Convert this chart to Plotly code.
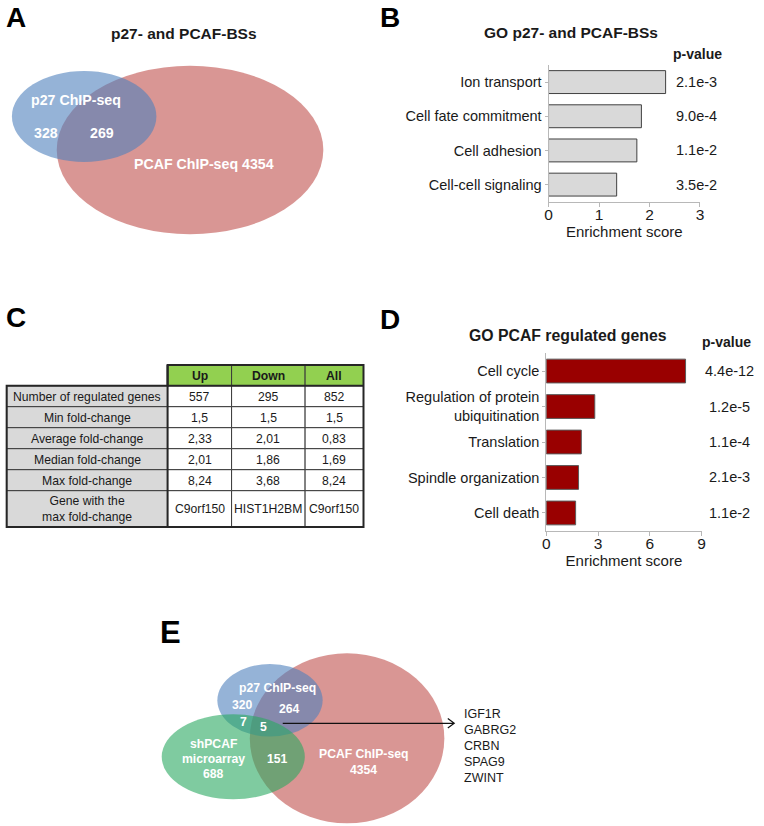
import plotly.graph_objects as go

W, H = 764, 826
FONT = "Liberation Sans, Arial, sans-serif"
TXT = "#1a1a1a"

# ---------------- data ----------------
# Panel A venn
venn_a_title = "p27- and PCAF-BSs"
venn_a_p27_only = 328
venn_a_overlap = 269
venn_a_pcaf = 4354

# Panel B
b_terms = ["Ion transport", "Cell fate commitment", "Cell adhesion", "Cell-cell signaling"]
b_scores = [2.32, 1.84, 1.75, 1.35]
b_pvals = ["2.1e-3", "9.0e-4", "1.1e-2", "3.5e-2"]
b_ticks = [0, 1, 2, 3]

# Panel C table
c_cols = ["Up", "Down", "All"]
c_rows = ["Number of regulated genes", "Min fold-change", "Average fold-change",
          "Median fold-change", "Max fold-change", "Gene with the<br>max fold-change"]
c_up = ["557", "1,5", "2,33", "2,01", "8,24", "C9orf150"]
c_down = ["295", "1,5", "2,01", "1,86", "3,68", "HIST1H2BM"]
c_all = ["852", "1,5", "0,83", "1,69", "8,24", "C9orf150"]

# Panel D
d_terms = ["Cell cycle", "Regulation of protein<br>ubiquitination", "Translation",
           "Spindle organization", "Cell death"]
d_scores = [8.07, 2.81, 2.03, 1.87, 1.70]
d_pvals = ["4.4e-12", "1.2e-5", "1.1e-4", "2.1e-3", "1.1e-2"]
d_ticks = [0, 3, 6, 9]

# Panel E venn
e_p27_only = 320
e_p27_pcaf = 264
e_p27_sh = 7
e_triple = 5
e_sh_only = 688
e_sh_pcaf = 151
e_pcaf = 4354
e_genes = ["IGF1R", "GABRG2", "CRBN", "SPAG9", "ZWINT"]

# ---------------- colours ----------------
BLUE = "rgba(79,129,189,0.6)"
RED = "rgba(192,80,77,0.6)"
GREEN = "rgba(42,168,97,0.6)"

fig = go.Figure()

def xd(a, b):
    return [a / W, b / W]

def yd(top, bottom):
    return [1 - bottom / H, 1 - top / H]

# ---------------- Panel B bars ----------------
fig.add_trace(go.Bar(
    x=b_scores, y=b_terms, orientation="h", xaxis="x2", yaxis="y2",
    marker=dict(color="#d9d9d9", line=dict(color="#404040", width=1)),
    hoverinfo="x+y"))

# ---------------- Panel D bars ----------------
fig.add_trace(go.Bar(
    x=d_scores, y=d_terms, orientation="h", xaxis="x3", yaxis="y3",
    marker=dict(color="#990000", line=dict(color="#5a5a5a", width=1)),
    hoverinfo="x+y"))

# ---------------- layout axes ----------------
def xaxis_cfg(dom, anchor, rng, ticks):
    return dict(domain=dom, anchor=anchor, range=rng, tickvals=ticks,
                showgrid=False, zeroline=False, showline=True, linecolor="#b8b8b8",
                linewidth=1, ticks="outside", ticklen=4, tickcolor="#b8b8b8",
                fixedrange=True, ticklabelstandoff=-5,
                tickfont=dict(family=FONT, size=15.5, color=TXT),
                title=dict(text="Enrichment score", font=dict(size=15, color=TXT), standoff=4))

def yaxis_cfg(dom, anchor):
    return dict(domain=dom, anchor=anchor, autorange="reversed", type="category",
                showgrid=False, zeroline=False, showline=True, linecolor="#b8b8b8",
                linewidth=1, ticks="outside", ticklen=3, tickcolor="#b8b8b8",
                fixedrange=True, tickfont=dict(family=FONT, size=14.5, color=TXT))

fig.update_layout(
    width=W, height=H, margin=dict(l=0, r=0, t=0, b=0),
    paper_bgcolor="white", plot_bgcolor="rgba(0,0,0,0)",
    showlegend=False, bargap=0.33,
    font=dict(family=FONT, color=TXT),
    xaxis2=xaxis_cfg(xd(550.3, 703.3), "y2", [0, 3], b_ticks),
    yaxis2=yaxis_cfg(yd(65, 201.7), "x2"),
    xaxis3=xaxis_cfg(xd(548, 705), "y3", [0, 9], d_ticks),
    yaxis3=yaxis_cfg(yd(353.3, 530.7), "x3"),
    # pixel canvas for venns / table / decorations
    xaxis5=dict(domain=[0, 1], range=[0, W], visible=False, fixedrange=True, anchor="y5"),
    yaxis5=dict(domain=[0, 1], range=[H, 0], visible=False, fixedrange=True, anchor="x5"),
)
fig.add_trace(go.Scatter(x=[0], y=[0], xaxis="x5", yaxis="y5", mode="markers",
                         marker=dict(opacity=0), hoverinfo="skip"))

shapes = []
ann = []

def ell(cx, cy, rx, ry, color):
    shapes.append(dict(type="circle", xref="x5", yref="y5", x0=cx - rx, x1=cx + rx,
                       y0=cy - ry, y1=cy + ry, fillcolor=color, line=dict(width=0),
                       layer="above"))

def text(x, y, s, size=13, bold=False, color=TXT, xanchor="center"):
    ann.append(dict(x=x, y=y, xref="x5", yref="y5", text=("<b>%s</b>" % s) if bold else s,
                    showarrow=False, xanchor=xanchor, yanchor="middle",
                    font=dict(family=FONT, size=size, color=color)))

# ---- Panel A venn ----
ell(188, 150, 134.7, 84.2, RED)
ell(81, 116.5, 73, 45.5, BLUE)
text(181.7, 33, venn_a_title, 15.5, True)
text(72.7, 100, "p27 ChIP-seq", 14.2, True, "white")
text(42, 133, str(venn_a_p27_only), 14.2, True, "white")
text(99, 133, str(venn_a_overlap), 14.2, True, "white")
text(201.7, 164, "PCAF ChIP-seq %d" % venn_a_pcaf, 14.2, True, "white")

# ---- Panel E venn ----
ell(346.7, 738.3, 98.3, 85, RED)
ell(268.8, 700.3, 53.2, 36.3, BLUE)
ell(231.7, 756.8, 72.3, 42.5, GREEN)
EF = 12.2
text(276, 688, "p27 ChIP-seq", EF, True, "white")
text(241, 705, str(e_p27_only), EF, True, "white")
text(288.3, 709, str(e_p27_pcaf), EF, True, "white")
text(241.7, 721.7, str(e_p27_sh), EF, True, "white")
text(262.7, 726.7, str(e_triple), EF, True, "white")
text(211.7, 744, "shPCAF", EF, True, "white")
text(211.7, 759, "microarray", EF, True, "white")
text(211.7, 774, str(e_sh_only), EF, True, "white")
text(276, 759, str(e_sh_pcaf), EF, True, "white")
text(363.3, 754.3, "PCAF ChIP-seq", EF, True, "white")
text(363.3, 770, str(e_pcaf), EF, True, "white")
shapes.append(dict(type="path", xref="x5", yref="y5", layer="above",
                   path="M 281.7 723.3 L 455 723.3 M 448.5 718.5 L 455 723.3 L 448.5 728.1",
                   line=dict(color="#111111", width=1.2)))
for i, g in enumerate(e_genes):
    text(462.7, 714 + i * 15.9, g, 12.5, False, TXT, "left")

# ---- Panel titles / p-values ----
text(573, 32, "GO p27- and PCAF-BSs", 15.5, True)
text(701, 54, "p-value", 14, True)
text(570, 335, "GO PCAF regulated genes", 15.8, True)
text(730, 342, "p-value", 14, True)
for t, p in zip(b_terms, b_pvals):
    ann.append(dict(x=700 / W, xref="paper", y=t, yref="y2", text=p, showarrow=False,
                    xanchor="center", font=dict(family=FONT, size=14.5, color=TXT)))
for t, p in zip(d_terms, d_pvals):
    ann.append(dict(x=732.7 / W, xref="paper", y=t, yref="y3", text=p, showarrow=False,
                    xanchor="center", font=dict(family=FONT, size=14.5, color=TXT)))

# ---- panel letters ----
text(0, 17, "A", 28, True, "black", "left")
text(378, 17, "B", 28, True, "black", "left")
text(0, 317, "C", 28, True, "black", "left")
text(378, 319, "D", 28, True, "black", "left")
text(156, 632, "E", 31, True, "black", "left")

# ---- Panel C table (cells drawn on pixel canvas) ----
col_edges = [2.7, 165.3, 230, 304.3, 363.3]
row_edges = [365, 385.7, 406.7, 427.7, 448.7, 469.7, 490.7, 527]
GRID = "#3a3a3a"
TF = 12.2
# header
for j, name in enumerate(c_cols, start=1):
    x0, x1 = col_edges[j], col_edges[j + 1]
    shapes.append(dict(type="rect", xref="x5", yref="y5", x0=x0, x1=x1,
                       y0=row_edges[0], y1=row_edges[1], fillcolor="#92d050",
                       line=dict(color=GRID, width=1), layer="above"))
    text((x0 + x1) / 2, (row_edges[0] + row_edges[1]) / 2 + 0.5, name, TF, True)
# body
body_cols = [c_rows, c_up, c_down, c_all]
for i in range(len(c_rows)):
    y0, y1 = row_edges[i + 1], row_edges[i + 2]
    for j, col in enumerate(body_cols):
        x0, x1 = col_edges[j], col_edges[j + 1]
        shapes.append(dict(type="rect", xref="x5", yref="y5", x0=x0, x1=x1, y0=y0, y1=y1,
                           fillcolor="#d9d9d9" if j == 0 else "white",
                           line=dict(color=GRID, width=1), layer="above"))
        text((x0 + x1) / 2, (y0 + y1) / 2 + 0.5, col[i], TF, False)
# thick borders
L, M, R = col_edges[0], col_edges[1], col_edges[-1]
T, HB, B = row_edges[0], row_edges[1], row_edges[-1]
shapes.append(dict(type="path", xref="x5", yref="y5", layer="above",
                   path=f"M {L} {HB} L {M} {HB} L {M} {T} L {R} {T} L {R} {B} L {L} {B} Z",
                   line=dict(color="#262626", width=2)))
shapes.append(dict(type="line", xref="x5", yref="y5", layer="above",
                   x0=M, x1=M, y0=T, y1=B, line=dict(color="#262626", width=2)))
shapes.append(dict(type="line", xref="x5", yref="y5", layer="above",
                   x0=M, x1=R, y0=HB, y1=HB, line=dict(color="#262626", width=2)))

fig.update_layout(shapes=shapes, annotations=ann)
fig.write_html("out.html", config={"displayModeBar": False},
               post_script="document.body.style.margin='0px';document.body.style.overflow='hidden';")
